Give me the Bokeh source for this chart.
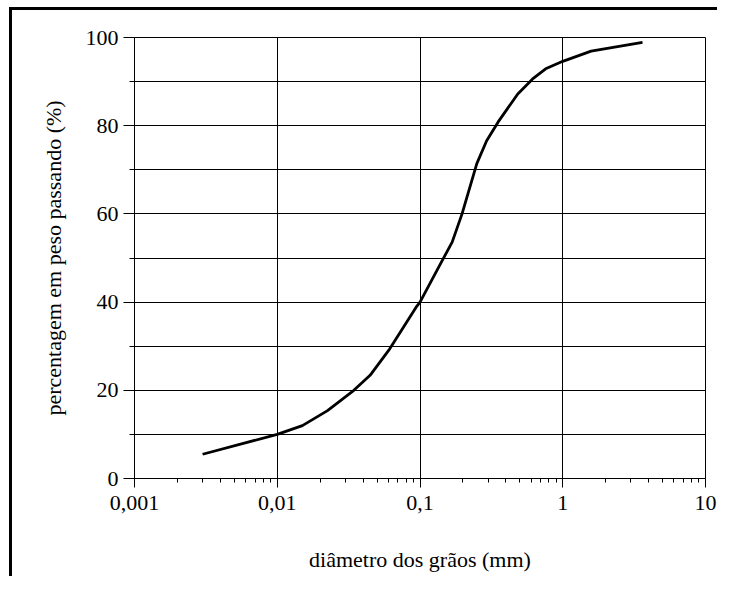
from bokeh.plotting import figure
from bokeh.models import FixedTicker, CustomJSTickFormatter
from bokeh.embed import file_html
from bokeh.resources import INLINE

# data
diametro_mm = [0.003, 0.01, 0.015, 0.0225, 0.0344, 0.0447, 0.0614, 0.0937, 0.1,
               0.143, 0.168, 0.197, 0.25, 0.293, 0.352, 0.484, 0.615, 0.759,
               1.0, 1.58, 3.62]
passando_pct = [5.5, 10, 12, 15.4, 20, 23.4, 29.4, 38.8, 40,
                49.4, 53.6, 60, 71.4, 76.6, 80.8, 87.2, 90.6, 92.9,
                94.6, 96.9, 98.9]

x_ticks = [0.001, 0.01, 0.1, 1, 10]
x_tick_labels = ["0,001", "0,01", "0,1", "1", "10"]
x_minor = [m * d for d in [0.001, 0.01, 0.1, 1] for m in range(2, 10)]
y_ticks = [0, 20, 40, 60, 80, 100]
y_minor = [10, 30, 50, 70, 90]

FONT = "Liberation Serif"
MX, MY = 9, 7            # css margins of the framed figure
OX, OY = MX + 3, MY + 3  # canvas origin inside the page
W, H = 717 - OX, 576 - OY

p = figure(width=W, height=H, x_axis_type="log",
           x_range=(0.001, 10), y_range=(0, 100),
           output_backend="svg", toolbar_location=None,
           frame_width=705 - 134, frame_height=478 - 37,
           min_border_left=134 - OX, min_border_right=W - (705 - OX),
           min_border_top=37 - OY, min_border_bottom=H - (478 - OY))
p.styles = {"border-top": "3px solid black", "border-left": "3px solid black",
            "margin-left": f"{MX}px", "margin-top": f"{MY}px"}

p.line(diametro_mm, passando_pct, line_color="black", line_width=2.8)

p.outline_line_color = "black"
p.outline_line_width = 1

# x axis
xa = p.xaxis[0]
xa.ticker = FixedTicker(ticks=x_ticks, minor_ticks=x_minor)
xa.formatter = CustomJSTickFormatter(args=dict(t=x_ticks, l=x_tick_labels), code="""
    for (let i = 0; i < t.length; i++) { if (Math.abs(t[i] - tick) < 1e-9 * t[i]) return l[i]; }
    return tick.toString().replace('.', ',');
""")
xa.axis_label = "diâmetro dos grãos (mm)"
xa.major_tick_out = 9
xa.major_tick_in = 0
xa.minor_tick_out = 4
xa.minor_tick_in = 0
xa.major_label_standoff = 8
xa.axis_label_standoff = 34

# y axis
ya = p.yaxis[0]
ya.ticker = FixedTicker(ticks=y_ticks, minor_ticks=y_minor)
ya.axis_label = "percentagem em peso passando (%)"
ya.major_tick_out = 11
ya.major_tick_in = 0
ya.minor_tick_out = 5
ya.minor_tick_in = 0
ya.major_label_standoff = 5
ya.axis_label_standoff = 17

for ax in (xa, ya):
    ax.axis_line_color = "black"
    ax.major_tick_line_color = "black"
    ax.minor_tick_line_color = "black"
    ax.major_label_text_font = FONT
    ax.major_label_text_font_size = "22px"
    ax.major_label_text_color = "black"
    ax.axis_label_text_font = FONT
    ax.axis_label_text_font_size = "22px"
    ax.axis_label_text_font_style = "normal"
    ax.axis_label_text_color = "black"

p.xgrid.grid_line_color = "black"
p.xgrid.grid_line_width = 1
p.ygrid.grid_line_color = "black"
p.ygrid.grid_line_width = 1
p.ygrid.minor_grid_line_color = "black"
p.ygrid.minor_grid_line_width = 1

open("out.html", "w").write(file_html(p, INLINE))
